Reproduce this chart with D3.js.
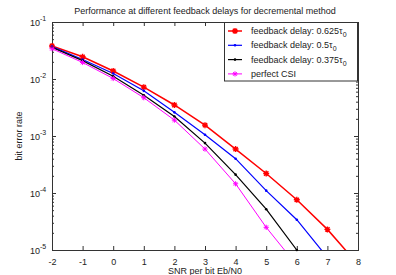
<!DOCTYPE html>
<html>
<head>
<meta charset="utf-8">
<script src="https://cdn.jsdelivr.net/npm/d3@7"></script>
<style>
  body { margin: 0; background: #fff; }
  text { font-family: "Liberation Sans", Arial, sans-serif; }
</style>
</head>
<body>
<svg id="chart" width="396" height="275"></svg>
<script>
// SNR values (Eb/N0, dB)
const snr = [-2, -1, 0, 1, 2, 3, 4, 5, 6, 7, 8];

// BER
const red = [0.038, 0.0245, 0.0138, 0.0072, 0.0035, 0.00155, 0.00059, 0.00022, 0.000076, 0.000023, 0.0000056];
const blue = [0.037, 0.022, 0.0125, 0.0062, 0.0026, 0.00105, 0.0004, 0.00011, 0.000034, 0.0000074];
const black = [0.036, 0.021, 0.0112, 0.0052, 0.0022, 0.00075, 0.00021, 0.000052, 0.00001];
const magenta = [0.034, 0.0195, 0.0102, 0.0047, 0.0019, 0.00059, 0.000145, 0.000025, 0.0000054];

const seriesNames = ["feedback delay: 0.625τ", "feedback delay: 0.5τ", "feedback delay: 0.375τ", "perfect CSI"];
const seriesSub = ["0", "0", "0", ""];
const xTicks = [-2, -1, 0, 1, 2, 3, 4, 5, 6, 7, 8];
const yExps = [-5, -4, -3, -2, -1];

const series = [
  { vals: red, color: "#ff0000", marker: "star", size: 3, width: 1.5 },
  { vals: blue, color: "#0000ff", marker: "dot", size: 0.9, width: 1.2 },
  { vals: black, color: "#000000", marker: "dot", size: 0.9, width: 1.2 },
  { vals: magenta, color: "#ff00ff", marker: "star", size: 2.6, width: 1 }
];

const margin = { left: 52, right: 38, top: 22, bottom: 25 };
const W = 396, H = 275;
const svg = d3.select("#chart");

const x = d3.scaleLinear().domain([-2, 8]).range([margin.left, W - margin.right]);
const y = d3.scaleLog().domain([1e-5, 1e-1]).range([H - margin.bottom, margin.top]);

svg.append("defs").append("clipPath").attr("id", "clip")
  .append("rect")
  .attr("x", margin.left).attr("y", margin.top)
  .attr("width", x(8) - x(-2)).attr("height", y(1e-5) - y(1e-1));

// axes box with inward ticks
const axColor = "#333";
const gx = svg.append("g").attr("transform", `translate(0,${y(1e-5)})`)
  .call(d3.axisBottom(x).tickValues(xTicks).tickSize(-4).tickPadding(9).tickFormat(d => String(d)));
const gxTop = svg.append("g").attr("transform", `translate(0,${y(1e-1)})`)
  .call(d3.axisTop(x).tickValues(xTicks).tickSize(-4).tickFormat(""));

const minor = [];
yExps.slice(0, -1).forEach(e => {
  for (let k = 2; k <= 9; k++) minor.push(k * Math.pow(10, e));
});
const majorVals = yExps.map(e => Math.pow(10, e));

const gy = svg.append("g").attr("transform", `translate(${x(-2)},0)`)
  .call(d3.axisLeft(y).tickValues(majorVals).tickSize(-4).tickFormat(""));
const gyMinor = svg.append("g").attr("transform", `translate(${x(-2)},0)`)
  .call(d3.axisLeft(y).tickValues(minor).tickSize(-2).tickFormat(""));
const gyR = svg.append("g").attr("transform", `translate(${x(8)},0)`)
  .call(d3.axisRight(y).tickValues(majorVals).tickSize(-4).tickFormat(""));
const gyRMinor = svg.append("g").attr("transform", `translate(${x(8)},0)`)
  .call(d3.axisRight(y).tickValues(minor).tickSize(-2).tickFormat(""));

[gx, gxTop, gy, gyMinor, gyR, gyRMinor].forEach(g => {
  g.selectAll("path").attr("stroke", axColor);
  g.selectAll("line").attr("stroke", axColor);
  g.selectAll("text").attr("fill", "#222").style("font-size", "9px")
    .style("font-family", "Liberation Sans, Arial, sans-serif");
});

// y tick labels 10^e
const yl = svg.append("g");
yExps.forEach(e => {
  yl.append("text")
    .attr("x", margin.left - 12).attr("y", y(Math.pow(10, e)) + 4)
    .attr("text-anchor", "end")
    .attr("fill", "#222").style("font-size", "9px")
    .text("10");
  yl.append("text")
    .attr("x", margin.left - 12).attr("y", y(Math.pow(10, e)) - 1)
    .attr("fill", "#222").style("font-size", "7px")
    .text(e);
});

// lines
const line = d3.line()
  .x((d, i) => x(snr[i]))
  .y(d => y(d));

const plot = svg.append("g").attr("clip-path", "url(#clip)");

function markerPath(cx, cy, s) {
  const d = s * 0.72;
  return `M${cx - s},${cy}L${cx + s},${cy}M${cx},${cy - s}L${cx},${cy + s}` +
    `M${cx - d},${cy - d}L${cx + d},${cy + d}M${cx - d},${cy + d}L${cx + d},${cy - d}`;
}

function drawMarker(g, s, cx, cy) {
  if (s.marker === "star") {
    g.append("path")
      .attr("d", markerPath(cx, cy, s.size))
      .attr("stroke", s.color).attr("stroke-width", s.width === 1.5 ? 1.4 : 1)
      .attr("fill", "none");
  } else {
    g.append("circle")
      .attr("cx", cx).attr("cy", cy).attr("r", s.size + 0.4)
      .attr("fill", s.color);
  }
}

series.forEach(s => {
  plot.append("path")
    .datum(s.vals)
    .attr("fill", "none")
    .attr("stroke", s.color)
    .attr("stroke-width", s.width)
    .attr("d", line);
  s.vals.forEach((v, i) => {
    if (v < 1e-5 * 0.999) return;
    drawMarker(svg, s, x(snr[i]), y(v));
  });
});

// title and axis labels
svg.append("text")
  .attr("x", 205).attr("y", 14)
  .attr("text-anchor", "middle")
  .attr("fill", "#222").style("font-size", "9px")
  .text("Performance at different feedback delays for decremental method");

svg.append("text")
  .attr("x", 205).attr("y", 274)
  .attr("text-anchor", "middle")
  .attr("fill", "#222").style("font-size", "9px")
  .text("SNR per bit Eb/N0");

svg.append("text")
  .attr("transform", `translate(22,${(margin.top + H - margin.bottom) / 2}) rotate(-90)`)
  .attr("text-anchor", "middle")
  .attr("fill", "#222").style("font-size", "9px")
  .text("bit error rate");

// legend
const lg = svg.append("g");
lg.append("rect")
  .attr("x", 224.5).attr("y", 22.5).attr("width", 133).attr("height", 58.5)
  .attr("fill", "#fff").attr("stroke", axColor).attr("stroke-width", 1);

seriesNames.forEach((name, i) => {
  const s = series[i];
  const ly = 31 + i * 14.3;
  lg.append("line")
    .attr("x1", 228).attr("x2", 242).attr("y1", ly).attr("y2", ly)
    .attr("stroke", s.color).attr("stroke-width", s.width);
  drawMarker(lg, s, 235, ly);
  const t = lg.append("text")
    .attr("x", 251).attr("y", ly + 3)
    .attr("fill", "#222").style("font-size", "9px");
  t.append("tspan").text(name);
  if (seriesSub[i]) {
    t.append("tspan").attr("dy", 3).style("font-size", "7px").text(seriesSub[i]);
  }
});
</script>
</body>
</html>
